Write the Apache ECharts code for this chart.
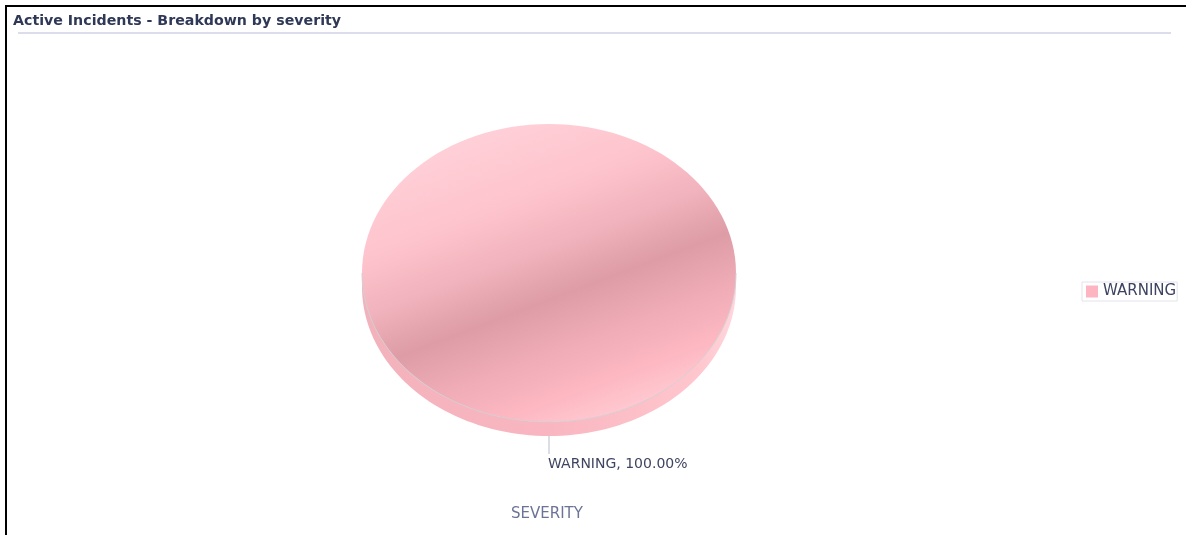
<!DOCTYPE html>
<html>
<head>
<meta charset="utf-8">
<title>Active Incidents - Breakdown by severity</title>
<script src="https://cdn.jsdelivr.net/npm/echarts@6/dist/echarts.min.js"></script>
<style>
  html, body { margin: 0; padding: 0; background: #ffffff; }
  #chart { width: 1186px; height: 535px; }
</style>
</head>
<body>
<div id="chart"></div>
<script>
// Severity breakdown of active incidents (share of incidents, in percent)
const severityCategories = ['WARNING'];
const severityShares = [100];
const severityColors = ['#fdb6c1'];

const chartTitle = 'Active Incidents - Breakdown by severity';
const axisTitle = 'SEVERITY';

// Geometry of the tilted (elliptical) pie with a shallow side wall
const PIE = { cx: 549, cy: 273, rx: 187, ry: 149, depth: 14 };
const FONT = '"DejaVu Sans", Verdana, sans-serif';

// angle measured clockwise from 12 o'clock
function ellipsePoint(a, dy) {
  return [PIE.cx + PIE.rx * Math.sin(a), PIE.cy - PIE.ry * Math.cos(a) + (dy || 0)];
}
function arcPoints(a0, a1, dy) {
  const pts = [];
  const n = Math.max(2, Math.ceil((a1 - a0) / (Math.PI / 90)));
  for (let i = 0; i <= n; i++) pts.push(ellipsePoint(a0 + (a1 - a0) * i / n, dy));
  return pts;
}

function topFill() {
  return new echarts.graphic.LinearGradient(0.35, 0, 0.65, 1, [
    { offset: 0.00, color: '#ffd0d8' },
    { offset: 0.25, color: '#fec4cd' },
    { offset: 0.42, color: '#f1b3bd' },
    { offset: 0.58, color: '#dd9ca6' },
    { offset: 0.74, color: '#f0adb7' },
    { offset: 0.88, color: '#fdb8c2' },
    { offset: 1.00, color: '#ffcad2' }
  ]);
}
function sideFill() {
  return new echarts.graphic.LinearGradient(0, 0, 1, 0, [
    { offset: 0.00, color: '#f2b2bc' },
    { offset: 0.50, color: '#f9b6c0' },
    { offset: 0.90, color: '#ffc6ce' },
    { offset: 1.00, color: '#ffd6dc' }
  ]);
}

function sliceRenderer(seriesIndex) {
  return function (params, api) {
    const total = severityShares.reduce((s, v) => s + v, 0);
    let before = 0;
    for (let i = 0; i < seriesIndex; i++) before += severityShares[i];
    const value = api.value(0);
    const a0 = before / total * 2 * Math.PI;
    const a1 = (before + value) / total * 2 * Math.PI;
    const full = value / total >= 0.99999;
    const children = [];

    // visible side wall: the part of the slice lying in the front half
    const s = Math.max(a0, Math.PI / 2), e = Math.min(a1, 3 * Math.PI / 2);
    if (e > s) {
      const upper = arcPoints(s, e, 0);
      const lower = arcPoints(s, e, PIE.depth).reverse();
      children.push({
        type: 'polygon',
        shape: { points: upper.concat(lower) },
        style: { fill: sideFill(), stroke: null }
      });
    }

    // top face
    if (full) {
      children.push({
        type: 'ellipse',
        shape: { cx: PIE.cx, cy: PIE.cy, rx: PIE.rx, ry: PIE.ry },
        style: { fill: topFill(), stroke: null }
      });
    } else {
      children.push({
        type: 'polygon',
        shape: { points: [[PIE.cx, PIE.cy]].concat(arcPoints(a0, a1, 0)) },
        style: { fill: topFill(), stroke: '#ffffff', lineWidth: 1 }
      });
    }
    // rim highlight along the front edge of the top face
    if (e > s) {
      children.push({
        type: 'polyline',
        shape: { points: arcPoints(s, e, 0) },
        style: { stroke: 'rgba(210,204,208,0.9)', lineWidth: 1, fill: null }
      });
    }

    // leader line and label
    const am = (a0 + a1) / 2;
    const front = am > Math.PI / 2 && am < 3 * Math.PI / 2;
    const p = ellipsePoint(am, front ? PIE.depth : 0);
    const dx = Math.sin(am), dy = -Math.cos(am);
    const q = [p[0] + dx * 18, p[1] + dy * 18];
    const pct = (value / total * 100).toFixed(2);
    children.push({
      type: 'line',
      shape: { x1: p[0], y1: p[1], x2: q[0], y2: q[1] },
      style: { stroke: '#b9bdcc', lineWidth: 1 }
    });
    children.push({
      type: 'text',
      x: q[0] - 1, y: q[1] + 10,
      style: {
        text: severityCategories[seriesIndex] + ', ' + pct + '%',
        fill: '#3f4561',
        font: '14px ' + FONT,
        align: dx < -0.01 ? 'right' : 'left',
        verticalAlign: 'middle'
      }
    });

    return { type: 'group', children: children };
  };
}

const chart = echarts.init(document.getElementById('chart'), null, { renderer: 'canvas' });

const series = severityCategories.map((name, i) => ({
  type: 'custom',
  name: name,
  coordinateSystem: 'none',
  data: [severityShares[i]],
  itemStyle: { color: severityColors[i] },
  renderItem: sliceRenderer(i)
}));

chart.setOption({
  animation: false,
  backgroundColor: '#ffffff',
  title: [
    {
      text: chartTitle,
      left: 13, top: 14, padding: 0,
      textStyle: { fontFamily: FONT, fontSize: 14.2, fontWeight: 'bold', color: '#2f3957' }
    },
    {
      text: axisTitle,
      left: 511, top: 507, padding: 0,
      textStyle: { fontFamily: FONT, fontSize: 15, fontWeight: 'normal', color: '#6c7398' }
    }
  ],
  legend: {
    data: severityCategories,
    orient: 'vertical',
    left: 1082, top: 282,
    padding: [2, 1, 2, 4],
    icon: 'rect',
    itemWidth: 12, itemHeight: 12,
    borderColor: '#e2e2ec', borderWidth: 1,
    textStyle: { fontFamily: FONT, fontSize: 15, color: '#3d4360' },
    selectedMode: false
  },
  graphic: [
    // frame lines of the panel
    { type: 'line', shape: { x1: 5, y1: 6, x2: 1186, y2: 6 }, style: { stroke: '#000000', lineWidth: 2 }, silent: true },
    { type: 'line', shape: { x1: 6, y1: 5, x2: 6, y2: 535 }, style: { stroke: '#000000', lineWidth: 2 }, silent: true },
    // title underline
    { type: 'rect', shape: { x: 18, y: 32, width: 1153, height: 2 }, style: { fill: '#dcdcea' }, silent: true }
  ],
  series: series
});
</script>
</body>
</html>
